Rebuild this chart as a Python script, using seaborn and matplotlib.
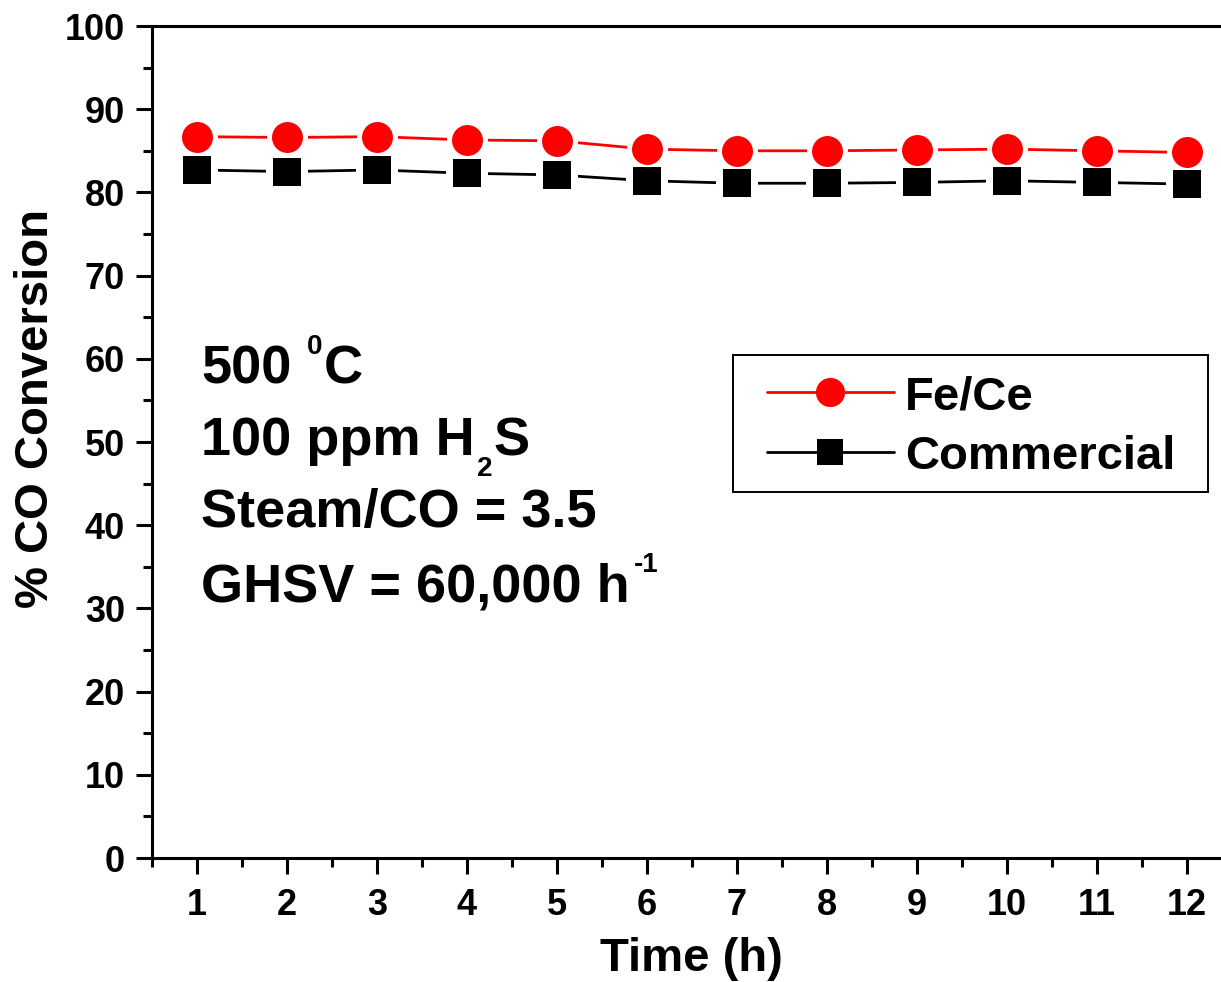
import matplotlib
matplotlib.use("Agg")
import matplotlib.pyplot as plt
import seaborn as sns
import pandas as pd
from matplotlib.lines import Line2D
from matplotlib.patches import Rectangle
from matplotlib.ticker import MultipleLocator

# ---- data ----
time_h = [1, 2, 3, 4, 5, 6, 7, 8, 9, 10, 11, 12]
fece = [86.7, 86.6, 86.7, 86.3, 86.2, 85.2, 85.0, 85.0, 85.1, 85.2, 85.0, 84.8]
commercial = [82.7, 82.5, 82.7, 82.3, 82.1, 81.4, 81.1, 81.1, 81.2, 81.4, 81.2, 81.0]
series_names = ["Fe/Ce", "Commercial"]
x_ticks = list(range(1, 13))
y_ticks = list(range(0, 101, 10))
# annotation lines as (text, kind) pieces: kind n=normal, sup=superscript, sub=subscript
annot_lines = [
    [("500", "n"), ("0", "sup"), ("C", "n")],
    [("100 ppm H", "n"), ("2", "sub"), ("S", "n")],
    [("Steam/CO = 3.5", "n")],
    [("GHSV = 60,000 h", "n"), ("-1", "sup")],
]

sns.set_style("ticks")
plt.rcParams["font.family"] = ["Liberation Sans", "DejaVu Sans"]
plt.rcParams["font.weight"] = "bold"
for k in ["text.color", "axes.labelcolor", "xtick.color", "ytick.color", "axes.edgecolor"]:
    plt.rcParams[k] = "black"

W, H = 1221, 982
fig = plt.figure(figsize=(W / 100, H / 100), dpi=100)
ax = fig.add_axes([152 / W, 1 - 858 / H, 1080 / W, (858 - 26) / H])

df = pd.DataFrame({"time": time_h, "fece": fece, "comm": commercial})

circ_d, circ_halo = 22.3, 29.5
sq_d, sq_halo = 20.2, 30.2
lw = 2.0

# lines
sns.lineplot(data=df, x="time", y="fece", color="#ff0000", lw=lw, ax=ax, zorder=2)
sns.lineplot(data=df, x="time", y="comm", color="black", lw=lw, ax=ax, zorder=2)
# white halos (gap between markers and lines)
sns.scatterplot(data=df, x="time", y="fece", marker="o", s=circ_halo ** 2,
                color="white", linewidth=0, ax=ax, zorder=3)
sns.scatterplot(data=df, x="time", y="comm", marker="s", s=sq_halo ** 2,
                color="white", linewidth=0, ax=ax, zorder=3)
# markers
sns.scatterplot(data=df, x="time", y="fece", marker="o", s=circ_d ** 2,
                color="#ff0000", linewidth=0, ax=ax, zorder=4)
sns.scatterplot(data=df, x="time", y="comm", marker="s", s=sq_d ** 2,
                color="black", linewidth=0, ax=ax, zorder=4)

ax.set_xlim(0.5, 12.5)
ax.set_ylim(0, 100)
ax.set_xticks(x_ticks)
ax.set_yticks(y_ticks)
ax.xaxis.set_minor_locator(MultipleLocator(0.5))
ax.yaxis.set_minor_locator(MultipleLocator(5))
ax.tick_params(which="major", length=11.5, width=2.2, labelsize=26, direction="out",
               colors="black")
ax.tick_params(axis="x", which="major", pad=10)
ax.tick_params(axis="y", which="major", pad=8)
ax.tick_params(which="minor", length=6.5, width=2.2, direction="out", colors="black")
for lab in ax.get_xticklabels() + ax.get_yticklabels():
    lab.set_fontweight("bold")
for sp in ax.spines.values():
    sp.set_linewidth(2.2)
    sp.set_visible(True)
    sp.set_color("black")
ax.set_xlabel("")
ax.set_ylabel("")

fig.text(691 / W, 1 - 971 / H, "Time (h)", ha="center", va="baseline",
         fontsize=34, fontweight="bold")
fig.text(36 / W, 1 - 409 / H, "% CO Conversion", ha="center", va="center",
         rotation=90, fontsize=34, fontweight="bold")

# multi-size annotation text, pieces chained left to right
renderer = fig.canvas.get_renderer()
main_fs, small_fs = 39, 20
baselines = [384, 455, 527, 602]
shift = {"n": 0, "sup": -30, "sub": 21}
gap_after = {"500": 16, "0": 1, "100 ppm H": 2, "2": 1, "GHSV = 60,000 h": 4}
for pieces, b in zip(annot_lines, baselines):
    xpix = 201
    for txt, kind in pieces:
        fs = main_fs if kind == "n" else small_fs
        t = fig.text(xpix / W, 1 - (b + shift[kind]) / H, txt, ha="left",
                     va="baseline", fontsize=fs, fontweight="bold", color="black")
        ext = t.get_window_extent(renderer)
        xpix = ext.x1 + gap_after.get(txt, 0)

# legend (line passes through marker) with a separate frame
h1 = Line2D([], [], color="#ff0000", lw=lw, marker="o", ms=21, mew=0)
h2 = Line2D([], [], color="black", lw=lw, marker="s", ms=19, mew=0)
leg = ax.legend([h1, h2], series_names, loc="upper left",
                bbox_to_anchor=(767 / W, 1 - 375 / H), bbox_transform=fig.transFigure,
                prop={"size": 34, "weight": "bold"}, frameon=False,
                handlelength=2.68, handletextpad=0.25, borderpad=0,
                labelspacing=0.33, borderaxespad=0)
fig.add_artist(Rectangle((733 / W, 1 - 492 / H), 475 / W, 137 / H,
                         transform=fig.transFigure, fill=False, ec="black", lw=1.4))

fig.savefig("out.png", dpi=100)
